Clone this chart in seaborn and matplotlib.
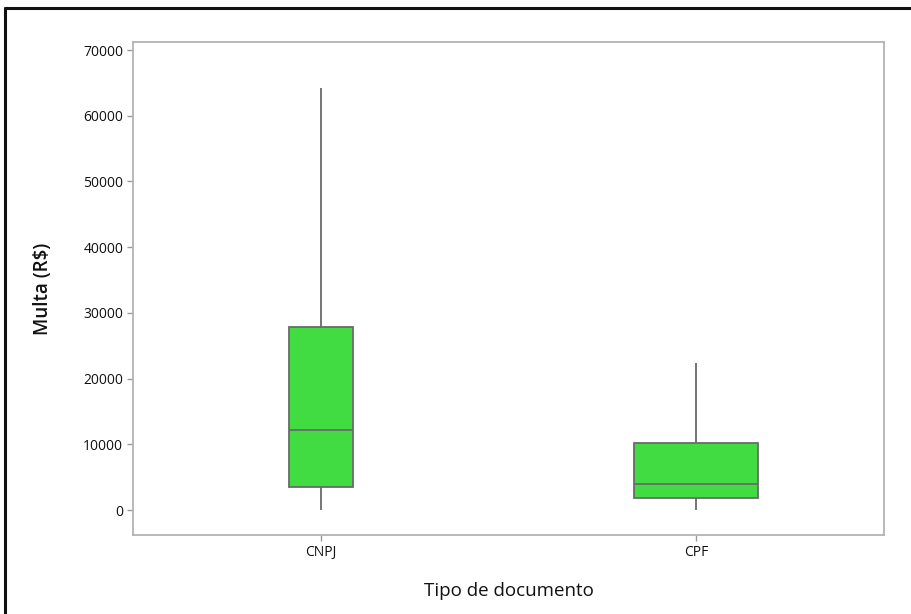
import numpy as np
import pandas as pd
import matplotlib
matplotlib.use("Agg")
import matplotlib.pyplot as plt
from matplotlib.lines import Line2D
import seaborn as sns

# Five-number summaries per document type: min, Q1, median, Q3, max
categories = ["CNPJ", "CPF"]
cnpj_values = [0, 3500, 12200, 27900, 64300]
cpf_values = [0, 1830, 3960, 10200, 22400]
yticks = [0, 10000, 20000, 30000, 40000, 50000, 60000, 70000]

df = pd.DataFrame({
    "Tipo de documento": ["CNPJ"] * len(cnpj_values) + ["CPF"] * len(cpf_values),
    "Multa (R$)": cnpj_values + cpf_values,
})

sns.set_theme(style="white")
plt.rcParams["font.family"] = ["Open Sans", "DejaVu Sans"]

fig = plt.figure(figsize=(9.12, 6.14), dpi=100)
ax = fig.add_axes([0.1458, 0.1287, 0.8235, 0.8029])

fill = "#41dc41"
edge = "#6a6a6a"
box_kw = dict(
    color=fill, linecolor=edge, linewidth=1.3, whis=np.inf,
    showcaps=False, order=categories, saturation=1, ax=ax,
)
widths = {"CNPJ": 0.171, "CPF": 0.33}
for cat in categories:
    sub = df[df["Tipo de documento"] == cat]
    sns.boxplot(data=sub, x="Tipo de documento", y="Multa (R$)",
                width=widths[cat], **box_kw)

ax.set_xlim(-0.5, 1.5)
ax.set_ylim(-3800, 71230)
ax.set_yticks(yticks)
ax.set_yticklabels([str(v) for v in yticks])

for s in ax.spines.values():
    s.set_color("#b3b3b3")
    s.set_linewidth(1.3)

ax.tick_params(axis="both", which="both", length=4, width=1, color="#9a9a9a",
               labelsize=10, labelcolor="#111111", pad=3, left=True, bottom=True)
for lbl in ax.get_xticklabels() + ax.get_yticklabels():
    lbl.set_fontweight("medium")
ax.set_xlabel("Tipo de documento", fontsize=13.5, color="#111111",
              labelpad=16, fontweight="medium")
ax.set_ylabel("Multa (R$)", fontsize=13.5, color="#111111",
              labelpad=22, fontweight="semibold")

# Frame lines along the top and left edges of the figure
fig.add_artist(Line2D([0.0055, 1.0], [0.987, 0.987], transform=fig.transFigure,
                      color="#111111", linewidth=2.2))
fig.add_artist(Line2D([0.0055, 0.0055], [0.0, 0.987], transform=fig.transFigure,
                      color="#111111", linewidth=2.2))

fig.savefig("out.png", dpi=100, facecolor="white")
